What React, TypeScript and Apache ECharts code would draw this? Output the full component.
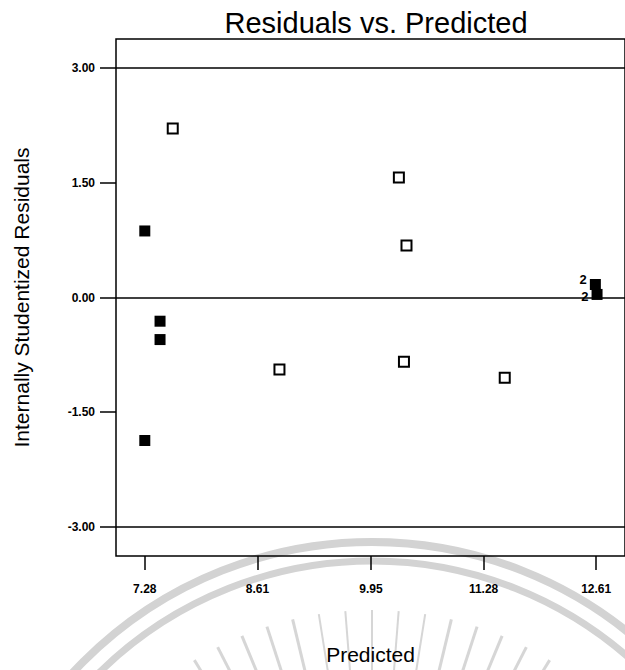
import React, { useEffect, useRef } from "react";
import * as echarts from "echarts";

const predictedFilled = [7.28, 7.46, 7.46, 7.28, 12.6, 12.62];
const residualFilled = [0.87, -0.31, -0.55, -1.87, 0.17, 0.04];
const filledLabels = ["", "", "", "", "2", "2"];
const predictedOpen = [7.61, 8.87, 10.28, 10.37, 10.34, 11.53];
const residualOpen = [2.21, -0.94, 1.57, 0.68, -0.84, -1.05];
const xTicks = [7.28, 8.61, 9.95, 11.28, 12.61];
const yTicks = [-3, -1.5, 0, 1.5, 3];
const refLines = [-3, 0, 3];

const FONT = "Liberation Sans, Arial, Helvetica, sans-serif";
const NARROW = "Liberation Sans Narrow, Arial Narrow, Liberation Sans, Arial, sans-serif";

function watermark() {
  const cx = 372;
  const cy = 950;
  const els: any[] = [];
  els.push({
    type: "arc",
    silent: true,
    z: -10,
    shape: { cx, cy, r: 408, startAngle: Math.PI, endAngle: 2 * Math.PI },
    style: { stroke: "#d3d3d3", lineWidth: 8, fill: null },
  });
  els.push({
    type: "arc",
    silent: true,
    z: -10,
    shape: { cx, cy, r: 389, startAngle: Math.PI, endAngle: 2 * Math.PI },
    style: { stroke: "#d3d3d3", lineWidth: 7, fill: null },
  });
  for (let a = -31.5; a <= 31.6; a += 4.5) {
    const t = (a * Math.PI) / 180;
    const r1 = 340;
    const r2 = 220;
    els.push({
      type: "line",
      silent: true,
      z: -10,
      shape: {
        x1: cx + r1 * Math.sin(t),
        y1: cy - r1 * Math.cos(t),
        x2: cx + r2 * Math.sin(t),
        y2: cy - r2 * Math.cos(t),
      },
      style: { stroke: "#d6d6d6", lineWidth: Math.abs(a) > 12 ? 3 : 2 },
    });
  }
  return els;
}

export default function App() {
  const ref = useRef<HTMLDivElement>(null);
  useEffect(() => {
    if (!ref.current) return;
    const chart = echarts.init(ref.current, null, { renderer: "svg" });
    chart.setOption({
      animation: false,
      backgroundColor: "#fff",
      title: {
        text: "Residuals vs. Predicted",
        left: 371,
        textAlign: "center",
        top: 3,
        textStyle: { fontFamily: FONT, fontSize: 29, fontWeight: "normal", color: "#000" },
      },
      graphic: watermark(),
      grid: {
        left: 116,
        right: -2,
        top: 39,
        bottom: 113,
        show: true,
        borderColor: "#000",
        borderWidth: 1.5,
        backgroundColor: "transparent",
      },
      xAxis: {
        type: "value",
        min: 6.94,
        max: 12.95,
        name: "Predicted",
        nameLocation: "middle",
        nameGap: 88,
        nameTextStyle: { fontFamily: FONT, fontSize: 21, color: "#000" },
        axisLine: { show: false, onZero: false },
        splitLine: { show: false },
        axisTick: {
          show: true,
          length: 14,
          customValues: xTicks,
          lineStyle: { color: "#000", width: 1.5 },
        },
        axisLabel: {
          customValues: xTicks,
          formatter: (v: number) => v.toFixed(2),
          margin: 27,
          fontFamily: NARROW,
          fontWeight: "bold",
          fontSize: 12,
          color: "#000",
        },
      },
      yAxis: {
        type: "value",
        min: -3.38,
        max: 3.38,
        name: "Internally Studentized Residuals",
        nameLocation: "middle",
        nameGap: 84,
        nameTextStyle: { fontFamily: FONT, fontSize: 21, color: "#000" },
        axisLine: { show: false, onZero: false },
        splitLine: { show: false },
        axisTick: {
          show: true,
          length: 16,
          customValues: yTicks,
          lineStyle: { color: "#000", width: 1.5 },
        },
        axisLabel: {
          customValues: yTicks,
          formatter: (v: number) => v.toFixed(2),
          margin: 21,
          fontFamily: NARROW,
          fontWeight: "bold",
          fontSize: 12,
          color: "#000",
        },
      },
      series: [
        {
          type: "scatter",
          name: "open",
          symbol: "rect",
          symbolSize: 10,
          itemStyle: { color: "#fff", borderColor: "#000", borderWidth: 2, opacity: 1 },
          data: predictedOpen.map((x, i) => [x, residualOpen[i]]),
          markLine: {
            silent: true,
            symbol: "none",
            label: { show: false },
            lineStyle: { color: "#000", width: 1.5, type: "solid", opacity: 1 },
            data: refLines.map((y) => ({ yAxis: y })),
          },
          z: 3,
        },
        {
          type: "scatter",
          name: "filled",
          symbol: "rect",
          symbolSize: 11,
          itemStyle: { color: "#000", opacity: 1 },
          data: predictedFilled.map((x, i) => ({
            value: [x, residualFilled[i]],
            label: {
              show: filledLabels[i] !== "",
              formatter: filledLabels[i],
              position: "left",
              distance: 3,
              offset: [0, i === 4 ? -5 : 2],
              lineHeight: 13,
              fontFamily: FONT,
              fontWeight: "bold",
              fontSize: 13,
              color: "#000",
            },
          })),
          z: 4,
        },
      ],
    });
    return () => chart.dispose();
  }, []);
  return (
    <div
      ref={ref}
      style={{ position: "fixed", left: 0, top: 0, width: 625, height: 670, background: "#fff" }}
    />
  );
}
